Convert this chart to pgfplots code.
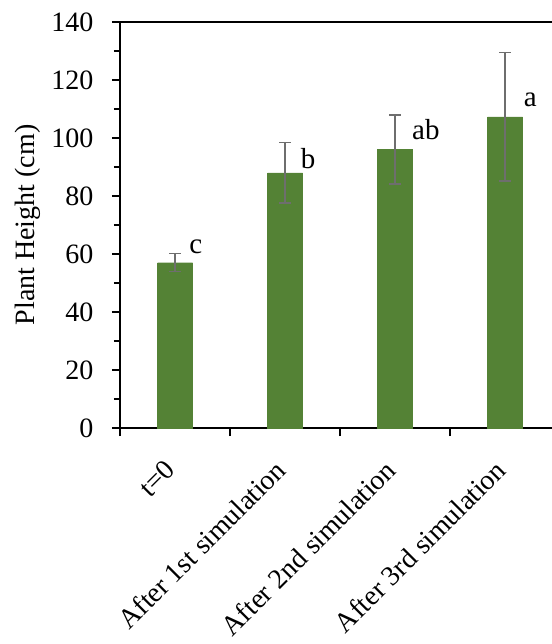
\documentclass[border=0pt]{standalone}
\usepackage{fontspec}
\setmainfont{Liberation Serif}
\usepackage{pgfplots}
\pgfplotsset{compat=1.18}
\definecolor{bargreen}{HTML}{548235}
\definecolor{errgray}{HTML}{6E6E6E}
\begin{document}
\begin{tikzpicture}
\begin{axis}[
  name=ax,
  scale only axis,
  width=432bp, height=406bp,
  xmin=-0.5, xmax=3.427,
  ymin=0, ymax=140,
  axis x line*=bottom, axis y line*=left,
  axis line style={line width=1.1bp, black},
  tick align=outside,
  tick style={line width=1.1bp, black},
  major tick length=8bp, minor tick length=6bp,
  ytick={0,20,...,140},
  minor ytick={10,30,...,130},
  xtick={-0.5,0.5,1.5,2.5},
  xticklabels={},
  extra x ticks={0,1,2,3},
  extra x tick labels={t=0,After 1st simulation,After 2nd simulation,After 3rd simulation},
  extra x tick style={major tick length=0pt,
    tick label style={rotate=45, anchor=north east, font=\fontsize{28bp}{33bp}\selectfont, xshift=-26bp, yshift=-10bp}},
  /pgf/number format/assume math mode=true,
  yticklabel style={font=\fontsize{28bp}{33bp}\selectfont, xshift=-15bp},
  ylabel={\fontsize{28bp}{34bp}\selectfont Plant Height (cm)},
  ylabel style={yshift=4bp},
  clip=false,
]
\addplot[ybar, bar width=35bp, fill=bargreen, draw=bargreen, bar shift=0pt,
  error bars/.cd, y dir=both, y explicit,
  error bar style={line width=1.5bp, errgray},
  error mark options={rotate=90, mark size=6bp, line width=1.5bp, errgray}]
  table[x=x, y=y, y error=e] {
x y e
0 57 3.1
1 88 10.4
2 96 11.9
3 107.3 22.2
};
\draw[line width=1.1bp] (rel axis cs:0,1) -- (rel axis cs:1,1);
\node[font=\fontsize{29bp}{34bp}\selectfont] at (axis cs:0.19,62.5) {c};
\node[font=\fontsize{29bp}{34bp}\selectfont] at (axis cs:1.21,93) {b};
\node[font=\fontsize{29bp}{34bp}\selectfont] at (axis cs:2.28,103) {ab};
\node[font=\fontsize{29bp}{34bp}\selectfont] at (axis cs:3.23,113) {a};
\end{axis}
\pgfresetboundingbox
\path[use as bounding box] ([xshift=-120bp,yshift=-216bp]ax.south west) rectangle ([yshift=22bp]ax.north east);
\end{tikzpicture}
\end{document}
